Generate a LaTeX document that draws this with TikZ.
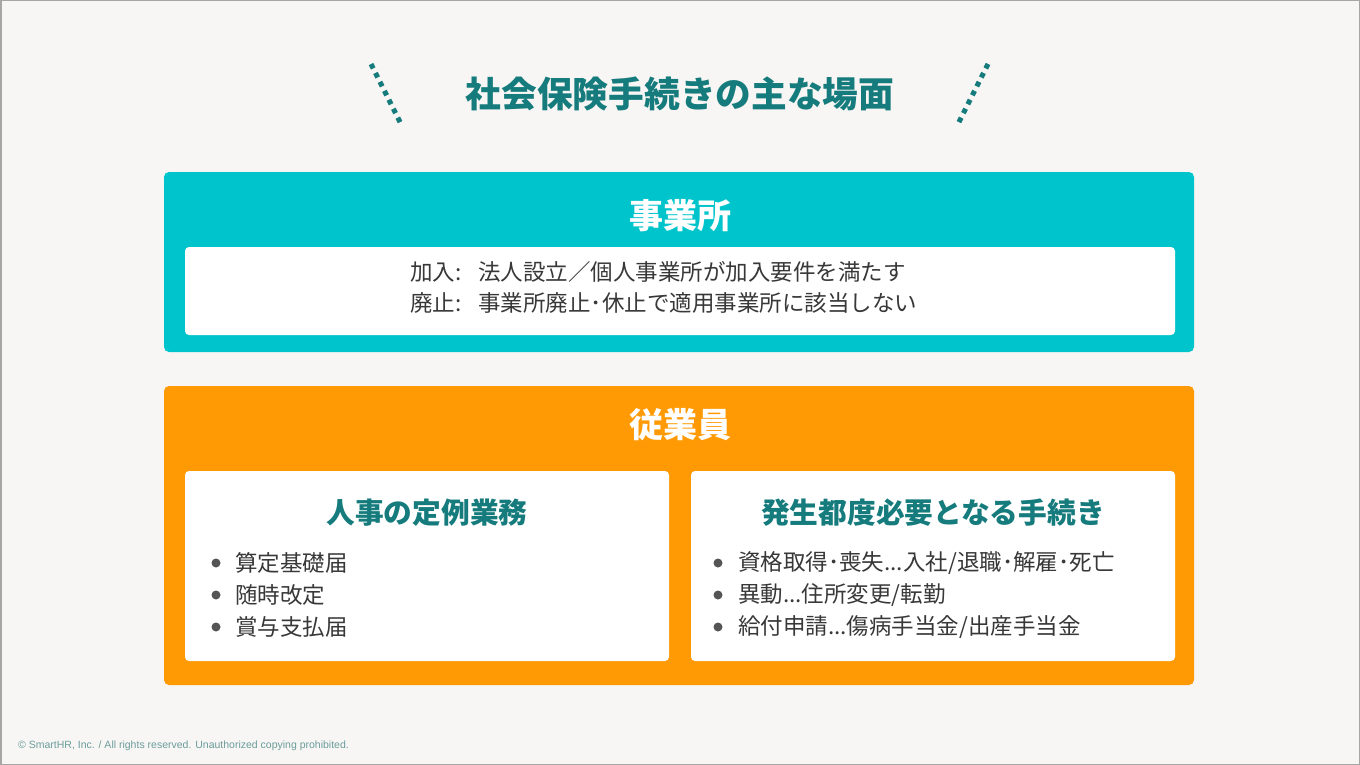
\documentclass[tikz,border=0pt]{standalone}
\usepackage{fontspec}
\setmainfont{Noto Sans CJK JP}
\newfontfamily\footfont{Liberation Sans}
\usepackage{tikz}
\usetikzlibrary{positioning, calc}
\usepackage{xcolor}
\definecolor{bgc}{HTML}{F7F6F4}
\definecolor{tealc}{HTML}{00C4CB}
\definecolor{orangec}{HTML}{FF9A05}
\definecolor{headc}{HTML}{157B7C}
\definecolor{textc}{HTML}{383838}
\definecolor{dotc}{HTML}{555555}
\definecolor{footc}{HTML}{6B9C9A}
\tikzset{panel/.style={rounded corners=5pt, inner sep=0pt}}
\tikzset{card/.style={fill=white, rounded corners=4pt, inner sep=0pt}}
\tikzset{head/.style={font=\fontsize{34}{40}\selectfont\bfseries, text=white, inner sep=0pt}}
\tikzset{sub/.style={font=\fontsize{28.7}{34}\selectfont\bfseries, text=headc, inner sep=0pt}}
\tikzset{body/.style={font=\fontsize{22.5}{26}\selectfont, text=textc, anchor=west, inner sep=0pt}}
\tikzset{dotline/.style={headc, line width=5pt, dash pattern=on 5pt off 5pt}}

\begin{document}
\begin{tikzpicture}[x=1pt,y=-1pt]
      \useasboundingbox (0,0) rectangle (1360,765);
      \fill[bgc, draw=gray!70, line width=1.5pt] (0.75,0.75) rectangle (1359.25,764.25);

      % title
      \node[font=\fontsize{35.7}{40}\selectfont\bfseries, text=headc, inner sep=0pt] (t0) at (680,94) {社会保険手続きの主な場面};
      \coordinate (d0) at (371,64);
      \coordinate (d1) at (401,124);
      \coordinate (d2) at (988,64);
      \coordinate (d3) at (958,124);
      \draw[dotline] (d0) -- (d1);
      \draw[dotline] (d2) -- (d3);

      % office
      \node[panel, fill=tealc, minimum width=1030, minimum height=180] (p0) at (679,262) {};
      \node[head] (h0) at (680,216) {事業所};
      \node[card, minimum width=990, minimum height=88] (c0) at (680,291) {};
      \node[body] (l0) at (410,272) {加入:\hspace{0.75em}法人設立／個人事業所が加入要件を満たす};
      \node[body] (l1) at (410,303) {廃止:\hspace{0.75em}事業所廃止･休止で適用事業所に該当しない};

      % staff
      \node[panel, fill=orangec, minimum width=1030, minimum height=299] (p1) at (679,535.5) {};
      \node[head] (h1) at (680,425) {従業員};
      \node[card, minimum width=484, minimum height=190] (c1) at (427,566) {};
      \node[card, minimum width=484, minimum height=190] (c2) at (933,566) {};
      \node[sub] (s1) at (427,513) {人事の定例業務};
      \node[sub] (s2) at (933,513) {発生都度必要となる手続き};

      \foreach \y/\txt [count=\i] in {563/{算定基礎届}, 595/{随時改定}, 627/{賞与支払届}} {
        \fill[dotc] (216,\y) circle (4.5pt);
        \node[body] (a\i) at (235,\y) {\txt};
      }
      \foreach \y/\txt [count=\i] in {563/{資格取得･喪失...入社/退職･解雇･死亡}, 595/{異動...住所変更/転勤}, 627/{給付申請...傷病手当金/出産手当金}} {
        \fill[dotc] (718,\y) circle (4.5pt);
        \node[body] (b\i) at (738,\y) {\txt};
      }

      \node[font=\footfont\fontsize{10.5}{12}\selectfont, text=footc, anchor=west, inner sep=0pt] (f0) at (18,746) {© SmartHR, Inc. / All rights reserved. Unauthorized copying prohibited.};
    \end{tikzpicture}
\end{document}
